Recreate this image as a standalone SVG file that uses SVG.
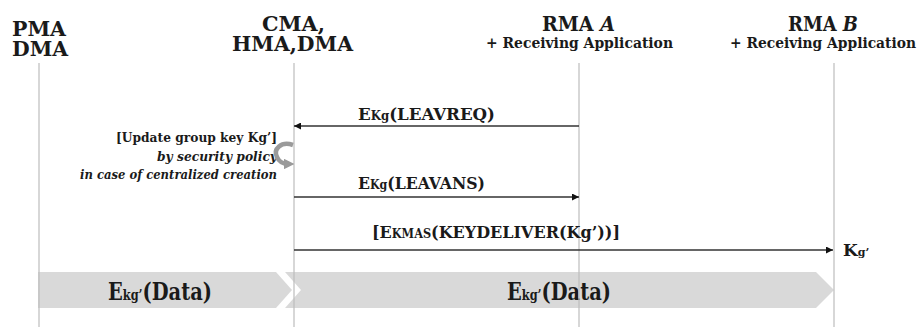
<svg xmlns="http://www.w3.org/2000/svg" width="924" height="327" viewBox="0 0 924 327">
<style>
  text { font-family: 'DejaVu Serif', 'Liberation Serif', serif; font-weight: bold; fill: #1a1a1a; }
  .hdr { font-size: 20px; }
  .sub { font-size: 15.5px; }
  .msg { font-size: 17px; }
  .sm { font-size: 12px; }
  .note { font-size: 13.5px; }
  .it { font-style: italic; }
  .life { stroke: #bdbdbd; stroke-width: 1.2; fill: none; }
  .arr { stroke: #333; stroke-width: 1.3; fill: none; }
  .band { fill: #d9d9d9; }
  .big { font-size: 24px; }
  .bsm { font-size: 14px; }
</style>
<defs>
  <marker id="ah" viewBox="0 0 10 10" refX="10" refY="5" markerWidth="8" markerHeight="7" markerUnits="userSpaceOnUse" orient="auto">
    <path d="M0,0 L10,5 L0,10 Z" fill="#111"/>
  </marker>
  <marker id="gh" viewBox="0 0 10 10" refX="5" refY="5" markerWidth="2.4" markerHeight="2.4" orient="auto">
    <path d="M0,0 L10,5 L0,10 Z" fill="#9a9a9a"/>
  </marker>
</defs>

<g id="band">
  <path class="band" d="M38,272 L276,272 L292,290 L276,308 L38,308 Z"/>
  <path class="band" d="M285,272 L816,272 L834,290 L816,308 L285,308 L301,290 Z"/>
  <text x="108" y="300" textLength="104" lengthAdjust="spacingAndGlyphs"><tspan class="big">E</tspan><tspan class="bsm">kg’</tspan><tspan class="big">(Data)</tspan></text>
  <text x="507" y="300" textLength="104" lengthAdjust="spacingAndGlyphs"><tspan class="big">E</tspan><tspan class="bsm">kg’</tspan><tspan class="big">(Data)</tspan></text>
</g>

<g id="pma">
  <text class="hdr" x="12" y="36" textLength="54" lengthAdjust="spacingAndGlyphs">PMA</text>
  <text class="hdr" x="12" y="56" textLength="56" lengthAdjust="spacingAndGlyphs">DMA</text>
  <line class="life" x1="39" y1="63" x2="39" y2="327"/>
</g>
<g id="cma">
  <text class="hdr" x="262" y="31" textLength="63" lengthAdjust="spacingAndGlyphs">CMA,</text>
  <text class="hdr" x="232" y="51" textLength="121" lengthAdjust="spacingAndGlyphs">HMA,DMA</text>
  <line class="life" x1="294" y1="63" x2="294" y2="327"/>
</g>
<g id="rmaA">
  <text class="hdr" x="542" y="31" textLength="73" lengthAdjust="spacingAndGlyphs">RMA <tspan font-style="italic">A</tspan></text>
  <text class="sub" x="486" y="48" textLength="187" lengthAdjust="spacingAndGlyphs">+ Receiving Application</text>
  <line class="life" x1="579" y1="63" x2="579" y2="327"/>
</g>
<g id="rmaB">
  <text class="hdr" x="788" y="31" textLength="70" lengthAdjust="spacingAndGlyphs">RMA <tspan font-style="italic">B</tspan></text>
  <text class="sub" x="730" y="48" textLength="186" lengthAdjust="spacingAndGlyphs">+ Receiving Application</text>
  <line class="life" x1="834" y1="63" x2="834" y2="327"/>
</g>

<g id="note">
  <text class="note" x="116" y="142" textLength="161" lengthAdjust="spacingAndGlyphs">[Update group key Kg’]</text>
  <text class="note it" x="157" y="161" textLength="120" lengthAdjust="spacingAndGlyphs">by security policy</text>
  <text class="note it" x="80" y="179" textLength="197" lengthAdjust="spacingAndGlyphs">in case of centralized creation</text>
  <path d="M293,145 C281,141 273,149 277,157 C279,162 284,164 289,164" stroke="#9a9a9a" stroke-width="4.5" fill="none" marker-end="url(#gh)"/>
</g>

<g id="connectors">
  <line class="arr" x1="579" y1="126" x2="294" y2="126" marker-end="url(#ah)"/>
  <text class="msg" x="358" y="120" textLength="137" lengthAdjust="spacingAndGlyphs"><tspan>E</tspan><tspan class="sm">Kg</tspan><tspan>(LEAVREQ)</tspan></text>
  <line class="arr" x1="294" y1="197" x2="579" y2="197" marker-end="url(#ah)"/>
  <text class="msg" x="358" y="189" textLength="127" lengthAdjust="spacingAndGlyphs"><tspan>E</tspan><tspan class="sm">Kg</tspan><tspan>(LEAVANS)</tspan></text>
  <line class="arr" x1="294" y1="250" x2="833" y2="250" marker-end="url(#ah)"/>
  <text class="msg" x="372" y="238" textLength="248" lengthAdjust="spacingAndGlyphs"><tspan>[E</tspan><tspan class="sm">KMAS</tspan><tspan>(KEYDELIVER(Kg’))]</tspan></text>
  <text x="843" y="256"><tspan font-size="17px">K</tspan><tspan font-size="11px">g’</tspan></text>
</g>
</svg>
